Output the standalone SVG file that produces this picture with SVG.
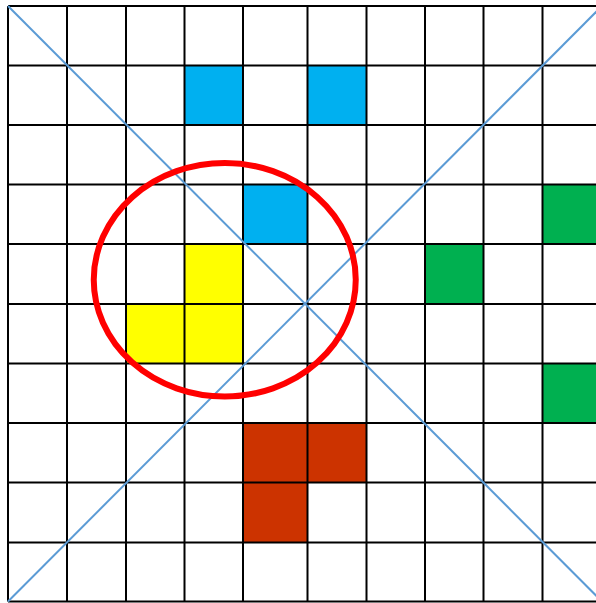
<svg xmlns="http://www.w3.org/2000/svg" width="596" height="603" viewBox="0 0 596 603">
<style>
.blue{fill:#00B0F0}.green{fill:#00B050}.yellow{fill:#FFFF00}.brown{fill:#CC3300}
.grid line{stroke:#000;stroke-width:2}
.diag line{stroke:#5B9BD5;stroke-width:2}
</style>
<rect x="0" y="0" width="596" height="603" fill="#fff"/>
<g id="cells">
<rect class="blue" x="184.5" y="65.5" width="58.5" height="59.5"/>
<rect class="blue" x="307.5" y="65.5" width="59" height="59.5"/>
<rect class="blue" x="243" y="184.5" width="64.5" height="59.5"/>
<rect class="green" x="542.5" y="184.5" width="59.5" height="59.5"/>
<rect class="green" x="425" y="244" width="58.5" height="60"/>
<rect class="green" x="542.5" y="363.5" width="59.5" height="59.5"/>
<rect class="yellow" x="184.5" y="244" width="58.5" height="60"/>
<rect class="yellow" x="126" y="304" width="58.5" height="59.5"/>
<rect class="yellow" x="184.5" y="304" width="58.5" height="59.5"/>
<rect class="brown" x="243" y="423" width="64.5" height="59.5"/>
<rect class="brown" x="307.5" y="423" width="59" height="59.5"/>
<rect class="brown" x="243" y="482.5" width="64.5" height="60"/>
</g>
<g id="grid" class="grid">
<line x1="8" y1="6" x2="8" y2="601.5"/>
<line x1="67" y1="6" x2="67" y2="601.5"/>
<line x1="126" y1="6" x2="126" y2="601.5"/>
<line x1="184.5" y1="6" x2="184.5" y2="601.5"/>
<line x1="243" y1="6" x2="243" y2="601.5"/>
<line x1="307.5" y1="6" x2="307.5" y2="601.5"/>
<line x1="366.5" y1="6" x2="366.5" y2="601.5"/>
<line x1="425" y1="6" x2="425" y2="601.5"/>
<line x1="483.5" y1="6" x2="483.5" y2="601.5"/>
<line x1="542.5" y1="6" x2="542.5" y2="601.5"/>
<line x1="602" y1="6" x2="602" y2="601.5"/>
<line x1="8" y1="6" x2="602" y2="6"/>
<line x1="8" y1="65.5" x2="602" y2="65.5"/>
<line x1="8" y1="125" x2="602" y2="125"/>
<line x1="8" y1="184.5" x2="602" y2="184.5"/>
<line x1="8" y1="244" x2="602" y2="244"/>
<line x1="8" y1="304" x2="602" y2="304"/>
<line x1="8" y1="363.5" x2="602" y2="363.5"/>
<line x1="8" y1="423" x2="602" y2="423"/>
<line x1="8" y1="482.5" x2="602" y2="482.5"/>
<line x1="8" y1="542.5" x2="602" y2="542.5"/>
<line x1="8" y1="601.5" x2="602" y2="601.5"/>
</g>
<g id="connectors" class="diag">
<line x1="8" y1="6" x2="602" y2="601.5"/>
<line x1="8" y1="601.5" x2="602" y2="6"/>
</g>
<g id="ellipse">
<ellipse cx="224.75" cy="279.75" rx="131" ry="116.75" fill="none" stroke="#FF0000" stroke-width="6"/>
</g>
</svg>
